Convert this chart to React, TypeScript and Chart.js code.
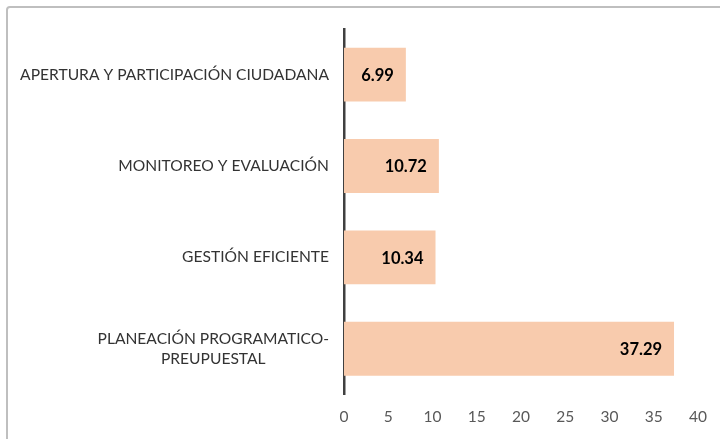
import React, { useEffect, useRef } from "react";
import { Chart, registerables } from "chart.js";

Chart.register(...registerables);

const categories: string[][] = [
  ["APERTURA Y PARTICIPACIÓN CIUDADANA"],
  ["MONITOREO Y EVALUACIÓN"],
  ["GESTIÓN EFICIENTE"],
  ["PLANEACIÓN PROGRAMATICO-", "PREUPUESTAL"],
];
const values: number[] = [6.99, 10.72, 10.34, 37.29];
const xMin = 0;
const xMax = 40;
const xStep = 5;

const FONT = "Lato, 'Open Sans', sans-serif";

const framePlugin = {
  id: "frame",
  beforeDraw(chart: any) {
    const ctx = chart.ctx;
    ctx.save();
    ctx.fillStyle = "#ffffff";
    ctx.fillRect(0, 0, chart.width, chart.height);
    ctx.strokeStyle = "#BFBFBF";
    ctx.lineWidth = 2;
    ctx.beginPath();
    ctx.moveTo(7, chart.height + 20);
    ctx.lineTo(7, 10);
    ctx.arcTo(7, 7, 10, 7, 3);
    ctx.lineTo(chart.width + 20, 7);
    ctx.stroke();
    ctx.restore();
  },
};

const labelsPlugin = {
  id: "labels",
  afterDatasetsDraw(chart: any) {
    const ctx = chart.ctx;
    const y = chart.scales.y;
    const x = chart.scales.x;
    ctx.save();
    // category labels
    ctx.font = `15.6px ${FONT}`;
    ctx.fillStyle = "#333333";
    ctx.textBaseline = "middle";
    const rightEdge = y.right - 15;
    categories.forEach((lines, i) => {
      const cy = y.getPixelForValue(i);
      const widths = lines.map((l) => ctx.measureText(l).width);
      const maxW = Math.max(...widths);
      const cx = rightEdge - maxW / 2;
      const lh = 20;
      const startY = cy - ((lines.length - 1) * lh) / 2;
      ctx.textAlign = "center";
      lines.forEach((l, j) => ctx.fillText(l, cx, startY + j * lh));
    });
    // value labels
    ctx.font = `bold 16.5px ${FONT}`;
    ctx.fillStyle = "#000000";
    ctx.textAlign = "right";
    values.forEach((v, i) => {
      const px = x.getPixelForValue(v);
      const py = y.getPixelForValue(i);
      ctx.fillText(v.toFixed(2), px - 12, py + 1);
    });
    ctx.restore();
  },
};

export default function App() {
  const ref = useRef<HTMLCanvasElement | null>(null);
  useEffect(() => {
    if (!ref.current) return;
    const chart = new Chart(ref.current, {
      type: "bar",
      data: {
        labels: categories.map((c) => c.join(" ")),
        datasets: [
          {
            data: values,
            backgroundColor: "#F8CBAD",
            borderWidth: 0,
            barPercentage: 0.59,
            categoryPercentage: 1,
          },
        ],
      },
      options: {
        indexAxis: "y",
        animation: false,
        responsive: false,
        layout: { padding: { left: 0, right: 22, top: 29, bottom: 0 } },
        plugins: { legend: { display: false }, tooltip: { enabled: false } },
        scales: {
          x: {
            min: xMin,
            max: xMax,
            grid: { display: false, drawTicks: false },
            border: { display: false },
            ticks: {
              stepSize: xStep,
              color: "#595959",
              font: { family: FONT, size: 15.5 },
              padding: 13,
            },
          },
          y: {
            grid: { display: false, drawTicks: false },
            border: { display: true, color: "#404040", width: 2.5 },
            ticks: { display: false },
            afterFit(scale: any) {
              scale.width = 344;
            },
          },
        },
      },
      plugins: [framePlugin, labelsPlugin],
    });
    return () => chart.destroy();
  }, []);
  return (
    <div style={{ position: "fixed", left: 0, top: 0, width: 720, height: 439 }}>
      <canvas ref={ref} width={720} height={439} />
    </div>
  );
}
